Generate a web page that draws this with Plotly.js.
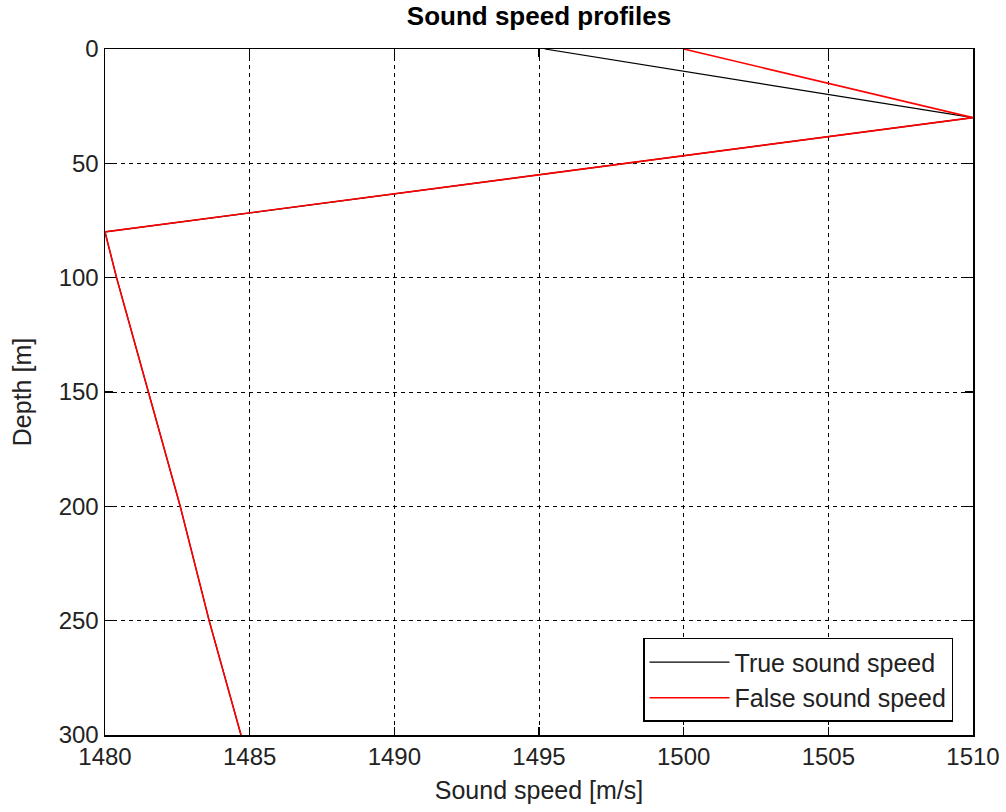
<!DOCTYPE html>
<html>
<head>
<meta charset="utf-8">
<script src="https://cdn.plot.ly/plotly-3.0.1.min.js"></script>
<style>
  html, body { margin: 0; padding: 0; background: #ffffff; }
  #chart { width: 1006px; height: 812px; }
</style>
</head>
<body>
<div id="chart"></div>
<script>
// Sound speed versus depth
const trueDepth  = [0, 30, 80, 100, 150, 200, 250, 300];
const trueSpeed  = [1495.2, 1510, 1480, 1480.4, 1481.5, 1482.6, 1483.6, 1484.7];
const falseDepth = [0, 30, 80, 100, 150, 200, 250, 300];
const falseSpeed = [1500, 1510, 1480, 1480.4, 1481.5, 1482.6, 1483.6, 1484.7];

const xTicks = [1480, 1485, 1490, 1495, 1500, 1505, 1510];
const yTicks = [0, 50, 100, 150, 200, 250, 300];

const font = "'Liberation Sans', Arial, sans-serif";

const traces = [
  {
    x: trueSpeed, y: trueDepth, mode: 'lines', name: 'True sound speed',
    line: { color: '#000000', width: 1.2 }
  },
  {
    x: falseSpeed, y: falseDepth, mode: 'lines', name: 'False sound speed',
    line: { color: '#ff0000', width: 1.6 }
  }
];

const axisCommon = {
  showline: true, linecolor: '#000000', linewidth: 1.5, mirror: 'ticks',
  ticks: 'inside', ticklen: 8, tickwidth: 1.5, tickcolor: '#000000',
  showgrid: true, gridcolor: '#000000', gridwidth: 1, griddash: '4px,4px',
  zeroline: false,
  tickfont: { family: font, size: 24, color: '#222222' }
};

const layout = {
  width: 1006, height: 812,
  margin: { l: 105, r: 33, t: 49, b: 77 },
  paper_bgcolor: '#ffffff', plot_bgcolor: '#ffffff',
  title: {
    text: 'Sound speed profiles',
    font: { family: font, size: 26, color: '#000000', weight: 'bold' },
    x: 0.5, xref: 'paper', xanchor: 'center', y: 0.992, yref: 'container', yanchor: 'top'
  },
  xaxis: Object.assign({}, axisCommon, {
    range: [1480, 1510], tickvals: xTicks,
    title: { text: 'Sound speed [m/s]', font: { family: font, size: 25, color: '#222222' }, standoff: 12 }
  }),
  yaxis: Object.assign({}, axisCommon, {
    range: [300, 0], tickvals: yTicks,
    title: { text: 'Depth [m]', font: { family: font, size: 25, color: '#222222' }, standoff: 20 }
  }),
  showlegend: true,
  legend: {
    x: 0.977, xanchor: 'right', y: 0.019, yanchor: 'bottom',
    bgcolor: '#ffffff', bordercolor: '#000000', borderwidth: 1.5,
    font: { family: font, size: 25, color: '#222222' },
    itemwidth: 80, tracegroupgap: 0
  }
};

Plotly.newPlot('chart', traces, layout, { displayModeBar: false, staticPlot: true });
</script>
</body>
</html>
